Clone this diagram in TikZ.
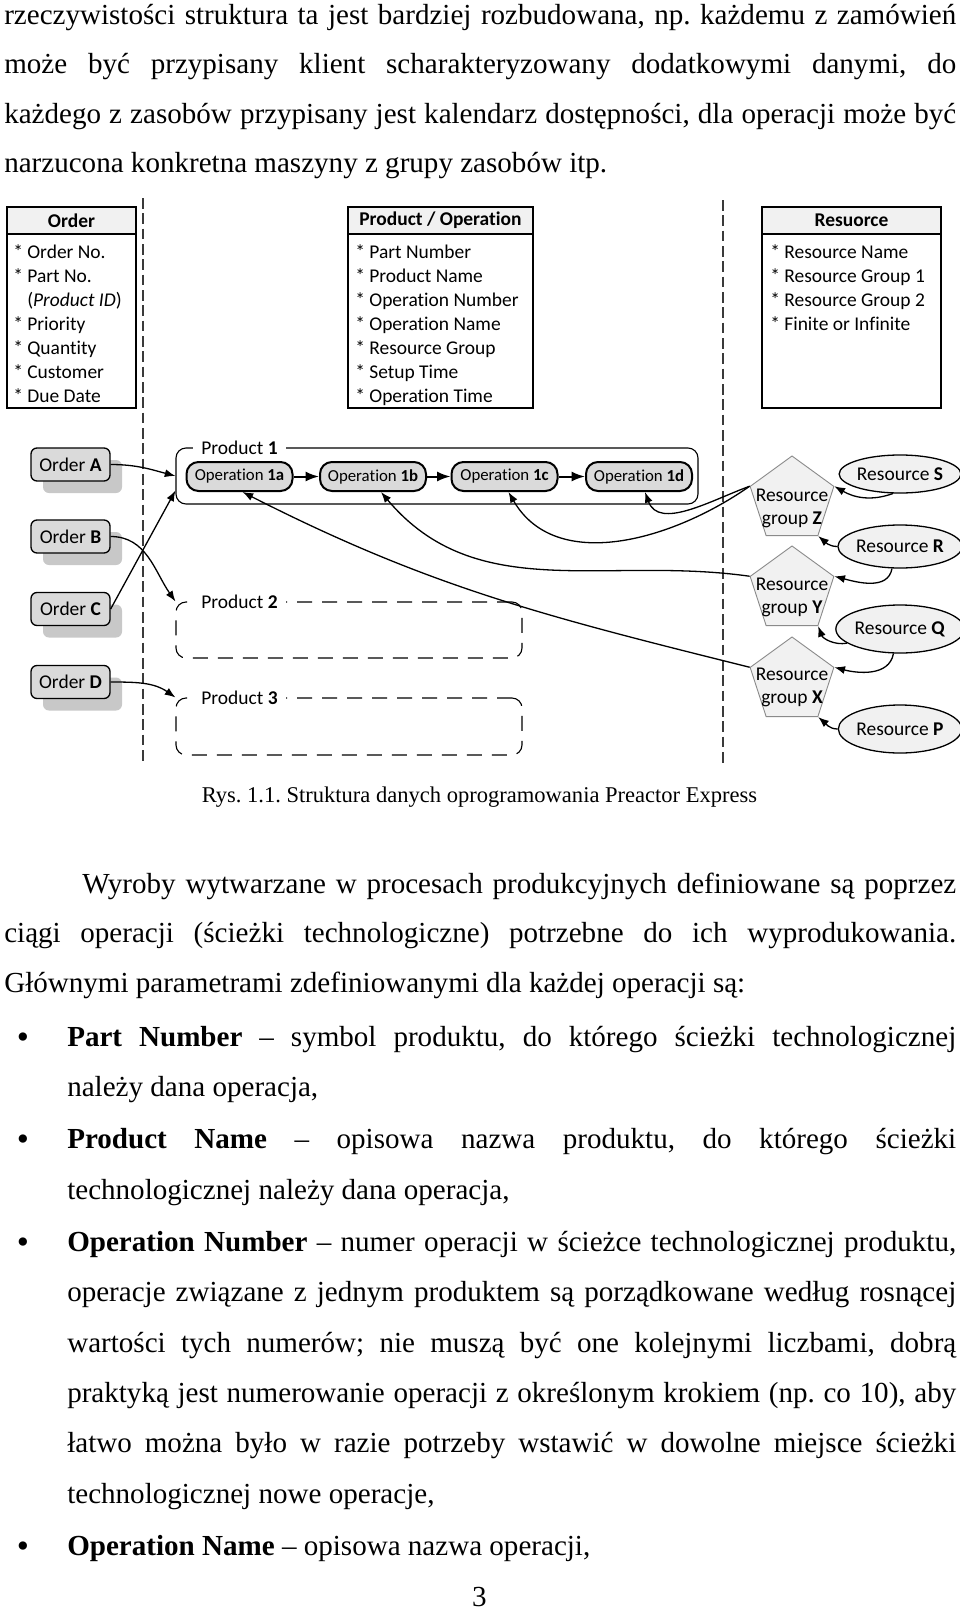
\documentclass[tikz,border=0pt]{standalone}
\usepackage{fontspec}
\setmainfont{Liberation Serif}
\newfontfamily\calibri[Ligatures=NoCommon]{Carlito}
\usetikzlibrary{arrows.meta,shapes.geometric,shadows}
\frenchspacing
\newlength{\dpx}\setlength{\dpx}{0.75pt}
\definecolor{prxFill}{HTML}{DADADA}
\definecolor{prxShadow}{HTML}{C8C8C8}
\definecolor{prxPale}{HTML}{F1F1F1}
\definecolor{prxEdge}{HTML}{8A8A8A}
\definecolor{prxRule}{HTML}{3A3A3A}
\newcommand{\bodyfont}{\fontsize{21.8pt}{26pt}\selectfont}
\newcommand{\capfont}{\fontsize{16.9pt}{20pt}\selectfont}
\newcommand{\diagfont}{\calibri\fontsize{14.6pt}{17.3pt}\selectfont}
\newcommand{\opfont}{\calibri\fontsize{12.6pt}{15pt}\selectfont}
\tikzset{
  prx body/.style={font=\bodyfont, inner sep=0pt, anchor=base west},
  prx bullet/.style={font=\fontsize{26pt}{26pt}\selectfont, inner sep=0pt, anchor=base},
  prx sep/.style={draw=prxRule, line width=1.2\dpx, dash pattern=on 8pt off 3.5pt},
  prx tab/.style={draw, line width=1.5\dpx, inner sep=0pt},
  prx head/.style={prx tab, fill=prxPale, minimum height=27\dpx, font=\diagfont\bfseries},
  prx item/.style={font=\diagfont, inner sep=0pt, anchor=base west},
  prx order/.style={draw, fill=prxFill, rounded corners=6\dpx, line width=1.3\dpx,
    minimum width=79\dpx, minimum height=33\dpx, inner sep=0pt, font=\diagfont,
    drop shadow={shadow xshift=9pt, shadow yshift=-9pt, fill=prxShadow, opacity=1}},
  prx group/.style={draw, rounded corners=10\dpx, line width=1.1\dpx, inner sep=0pt},
  prx dash/.style={dash pattern=on 11.25pt off 7.5pt},
  prx gap/.style={fill=white, font=\diagfont, inner xsep=8\dpx, inner ysep=1\dpx},
  prx op/.style={draw, fill=prxFill, rounded corners=12\dpx, line width=2\dpx,
    minimum width=106\dpx, minimum height=29\dpx, inner sep=0pt, font=\opfont},
  prx chain/.style={line width=2\dpx, -{Latex[length=10pt,width=7.5pt]}},
  prx link/.style={line width=1.3\dpx, -{Latex[length=8pt,width=6pt]}},
  prx pent/.style={regular polygon, regular polygon sides=5, minimum size=88\dpx,
    draw=prxEdge, fill=prxPale, line width=0.9\dpx, inner sep=0pt},
  prx pentlbl/.style={font=\diagfont, align=center, inner sep=0pt},
  prx res/.style={ellipse, draw, fill=prxPale, line width=1.3\dpx,
    minimum width=106\dpx, inner sep=0pt, font=\diagfont},
}
\begin{document}
\begin{tikzpicture}[x=0.75pt, y=-0.75pt]
  \useasboundingbox (0,0) rectangle (960,1610);
  \fill[white] (0,0) rectangle (960,1610);

  % Text above the figure
  \node[prx body] (parA1) at (4,24) {\makebox[952\dpx][s]{rzeczywistości struktura ta jest bardziej rozbudowana, np. każdemu z zamówień}};
  \node[prx body] (parA2) at (4,73.5) {\makebox[952\dpx][s]{może być przypisany klient scharakteryzowany dodatkowymi danymi, do}};
  \node[prx body] (parA3) at (4,123) {\makebox[952\dpx][s]{każdego z zasobów przypisany jest kalendarz dostępności, dla operacji może być}};
  \node[prx body] (parA4) at (4,172.5) {narzucona konkretna maszyny z grupy zasobów itp.};

  % Column separators
  \coordinate (sepLtop) at (143,198);
  \coordinate (sepLbot) at (143,763);
  \coordinate (sepRtop) at (723,200);
  \coordinate (sepRbot) at (723,763);
  \draw[prx sep] (sepLtop) -- (sepLbot);
  \draw[prx sep] (sepRtop) -- (sepRbot);

  % Data tables
  \node[prx tab, minimum width=129\dpx, minimum height=201\dpx] (ordTab) at (71.5,307.5) {};
  \node[prx head, minimum width=129\dpx] (ordHead) at (71.5,220.5) {Order};
  \foreach \txt [count=\i from 0] in {{* Order No.},{* Part No.},{\hspace*{14\dpx}(\textit{Product ID})},
      {* Priority},{* Quantity},{* Customer},{* Due Date}}
    \node[prx item] (ordItem\i) at (13,{258+24*\i}) {\txt};

  \node[prx tab, minimum width=185\dpx, minimum height=201\dpx] (prdTab) at (440.5,307.5) {};
  \node[prx head, minimum width=185\dpx] (prdHead) at (440.5,220.5) {Product / Operation};
  \foreach \txt [count=\i from 0] in {{* Part Number},{* Product Name},{* Operation Number},
      {* Operation Name},{* Resource Group},{* Setup Time},{* Operation Time}}
    \node[prx item] (prdItem\i) at (355,{258+24*\i}) {\txt};

  \node[prx tab, minimum width=179\dpx, minimum height=201\dpx] (resTab) at (851.5,307.5) {};
  \node[prx head, minimum width=179\dpx] (resHead) at (851.5,220.5) {Resuorce};
  \foreach \txt [count=\i from 0] in {{* Resource Name},{* Resource Group 1},{* Resource Group 2},
      {* Finite or Infinite}}
    \node[prx item] (resItem\i) at (770,{258+24*\i}) {\txt};

  % Orders
  \node[prx order] (ordA) at (70.5,464.5) {Order \textbf{A}};
  \node[prx order] (ordB) at (70.5,536.5) {Order \textbf{B}};
  \node[prx order] (ordC) at (70.5,609) {Order \textbf{C}};
  \node[prx order] (ordD) at (70.5,682) {Order \textbf{D}};

  % Products
  \node[prx group, minimum width=522\dpx, minimum height=56\dpx] (prod1) at (437,476) {};
  \node[prx group, prx dash, minimum width=346\dpx, minimum height=56\dpx] (prod2) at (349,630) {};
  \node[prx group, prx dash, minimum width=346\dpx, minimum height=57\dpx] (prod3) at (349,726.5) {};
  \node[prx gap] (prod1lbl) at (239.5,448) {Product \textbf{1}};
  \node[prx gap] (prod2lbl) at (239.5,602) {Product \textbf{2}};
  \node[prx gap] (prod3lbl) at (239.5,698) {Product \textbf{3}};

  % Operations of product 1
  \node[prx op] (op1a) at (239.5,476.5) {Operation \textbf{1a}};
  \node[prx op] (op1b) at (373,476.5) {Operation \textbf{1b}};
  \node[prx op] (op1c) at (504.5,476.5) {Operation \textbf{1c}};
  \node[prx op] (op1d) at (639,476.5) {Operation \textbf{1d}};
  \foreach \a/\b in {op1a/op1b,op1b/op1c,op1c/op1d}
    \draw[prx chain] (\a) -- (\b);

  % Resource groups
  \node[prx pent] (rgZ) at (792,500) {};
  \node[prx pent] (rgY) at (792,590) {};
  \node[prx pent] (rgX) at (792,681) {};
  \node[prx pentlbl] (rgZlbl) at (792,508) {Resource\\group \textbf{Z}};
  \node[prx pentlbl] (rgYlbl) at (792,597.5) {Resource\\group \textbf{Y}};
  \node[prx pentlbl] (rgXlbl) at (792,687.5) {Resource\\group \textbf{X}};

  % Resources
  \node[prx res, minimum height=38\dpx] (resS) at (900,474) {Resource \textbf{S}};
  \node[prx res, minimum height=43\dpx] (resR) at (900,546.5) {Resource \textbf{R}};
  \node[prx res, minimum height=48\dpx] (resQ) at (900,629) {Resource \textbf{Q}};
  \node[prx res, minimum height=48\dpx] (resP) at (900,729) {Resource \textbf{P}};

  % Orders to products
  \draw[prx link] (ordA.east) to[out=0, in=165] (prod1.west);
  \draw[prx link] (ordB.east) to[out=0, in=125] (prod2.north west);
  \draw[prx link] (ordC.east) -- ([yshift=14\dpx]prod1.south west);
  \draw[prx link] (ordD.east) to[out=0, in=145] (prod3.north west);

  % Resource groups to operations
  \draw[prx link] (rgZ.corner 2) to[out=200, in=-70] ([xshift=6\dpx]op1d.south);
  \draw[prx link] (rgZ.corner 2) to[out=215, in=-60] ([xshift=4\dpx]op1c.south);
  \draw[prx link] (rgY.corner 2) to[out=172, in=-50] ([xshift=8\dpx]op1b.south);
  \draw[prx link] (rgX.corner 2) to[out=166, in=-27] ([xshift=3\dpx]op1a.south);

  % Resources to resource groups
  \draw[prx link] (resS.250) to[out=200, in=-30] (rgZ.corner 5);
  \draw[prx link] (resR.west) to[out=180, in=-40] (rgZ.corner 4);
  \draw[prx link] (resR.250) to[out=260, in=-15] (rgY.corner 5);
  \draw[prx link] (resQ.195) to[out=190, in=-70] (rgY.corner 4);
  \draw[prx link] (resQ.255) to[out=260, in=-15] (rgX.corner 5);
  \draw[prx link] (resP.west) to[out=180, in=-40] (rgX.corner 4);

  % Caption
  \node[font=\capfont, anchor=base, inner sep=0pt] (figCaption) at (479.5,802) {Rys. 1.1. Struktura danych oprogramowania Preactor Express};

  % Text below the figure
  \node[prx body] (parB1) at (82,893) {\makebox[874\dpx][s]{Wyroby wytwarzane w procesach produkcyjnych definiowane są poprzez}};
  \node[prx body] (parB2) at (4,942.5) {\makebox[952\dpx][s]{ciągi operacji (ścieżki technologiczne) potrzebne do ich wyprodukowania.}};
  \node[prx body] (parB3) at (4,992) {Głównymi parametrami zdefiniowanymi dla każdej operacji są:};

  \node[prx bullet] (bul1) at (23,1048) {\textbullet};
  \node[prx body] (itm1a) at (67,1046) {\makebox[889\dpx][s]{\textbf{Part Number} – symbol produktu, do którego ścieżki technologicznej}};
  \node[prx body] (itm1b) at (67,1096) {należy dana operacja,};

  \node[prx bullet] (bul2) at (23,1150.5) {\textbullet};
  \node[prx body] (itm2a) at (67,1148.5) {\makebox[889\dpx][s]{\textbf{Product Name} – opisowa nazwa produktu, do którego ścieżki}};
  \node[prx body] (itm2b) at (67,1199) {technologicznej należy dana operacja,};

  \node[prx bullet] (bul3) at (23,1253) {\textbullet};
  \node[prx body] (itm3a) at (67,1251) {\makebox[889\dpx][s]{\textbf{Operation Number} – numer operacji w ścieżce technologicznej produktu,}};
  \node[prx body] (itm3b) at (67,1301.5) {\makebox[889\dpx][s]{operacje związane z jednym produktem są porządkowane według rosnącej}};
  \node[prx body] (itm3c) at (67,1352) {\makebox[889\dpx][s]{wartości tych numerów; nie muszą być one kolejnymi liczbami, dobrą}};
  \node[prx body] (itm3d) at (67,1402) {\makebox[889\dpx][s]{praktyką jest numerowanie operacji z określonym krokiem (np. co 10), aby}};
  \node[prx body] (itm3e) at (67,1452.5) {\makebox[889\dpx][s]{łatwo można było w razie potrzeby wstawić w dowolne miejsce ścieżki}};
  \node[prx body] (itm3f) at (67,1503) {technologicznej nowe operacje,};

  \node[prx bullet] (bul4) at (23,1557) {\textbullet};
  \node[prx body] (itm4a) at (67,1555) {\textbf{Operation Name} – opisowa nazwa operacji,};

  % Page number
  \node[prx body, anchor=base] (pageNo) at (479.5,1606) {3};
\end{tikzpicture}
\end{document}
